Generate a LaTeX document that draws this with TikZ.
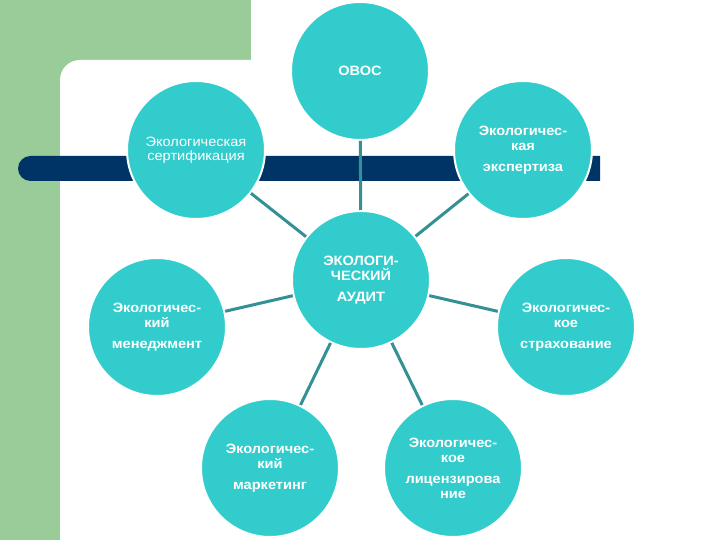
\documentclass[tikz,border=0pt]{standalone}
\usepackage{fontspec}
\setmainfont{Liberation Sans}[FakeStretch = 1.08]
\definecolor{circfill}{RGB}{51,204,204}
\definecolor{linkcol}{RGB}{51,145,150}
\definecolor{navybar}{RGB}{0,51,102}
\definecolor{slidegreen}{RGB}{153,204,153}
\begin{document}
\begin{tikzpicture}[x = 1pt, y = 1pt,
                   circ/.style = {circle, fill = circfill, draw = white, line width = 2pt,
                                  minimum size = 138pt, inner sep = 0pt, align = center, text = white,
                                  font = \fontsize{13.5}{15}\selectfont\bfseries},
                   link/.style = {draw = linkcol, line width = 3pt}]
                   \useasboundingbox (0,0) rectangle (720,540);
                   \clip (0,0) rectangle (720,540);

                   \fill[slidegreen] (0,0) rectangle (251,540);
                   \fill[white, rounded corners = 20pt] (60,-30) rectangle (760,480);
                   \fill[navybar] (600,384) -- (30.5,384) arc[start angle = 90, end angle = 270, radius = 12.5] -- (600,359) -- cycle;

                   \node[circ] (ovos) at (360,469) {ОВОС};
                   \node[circ, font = \fontsize{13.5}{14}\selectfont] (sert) at (196,390) {Экологическая\\сертификация};
                   \node[circ] (expert) at (523,390) {Экологичес-\\кая\\[6pt]экспертиза};
                   \node[circ] (audit) at (361,260) {ЭКОЛОГИ-\\ЧЕСКИЙ\\[6pt]АУДИТ};
                   \node[circ] (menedzh) at (157,213) {Экологичес-\\кий\\[6pt]менеджмент};
                   \node[circ] (strakh) at (566,213) {Экологичес-\\кое\\[6pt]страхование};
                   \node[circ] (market) at (270,72) {Экологичес-\\кий\\[6pt]маркетинг};
                   \node[circ] (litsenz) at (453,72) {Экологичес-\\кое\\[6pt]лицензирова\\ние};

                   \draw[link] (audit) -- (ovos);
                   \draw[link] (audit) -- (sert);
                   \draw[link] (audit) -- (expert);
                   \draw[link] (audit) -- (menedzh);
                   \draw[link] (audit) -- (strakh);
                   \draw[link] (audit) -- (market);
                   \draw[link] (audit) -- (litsenz);

        \end{tikzpicture}
\end{document}
